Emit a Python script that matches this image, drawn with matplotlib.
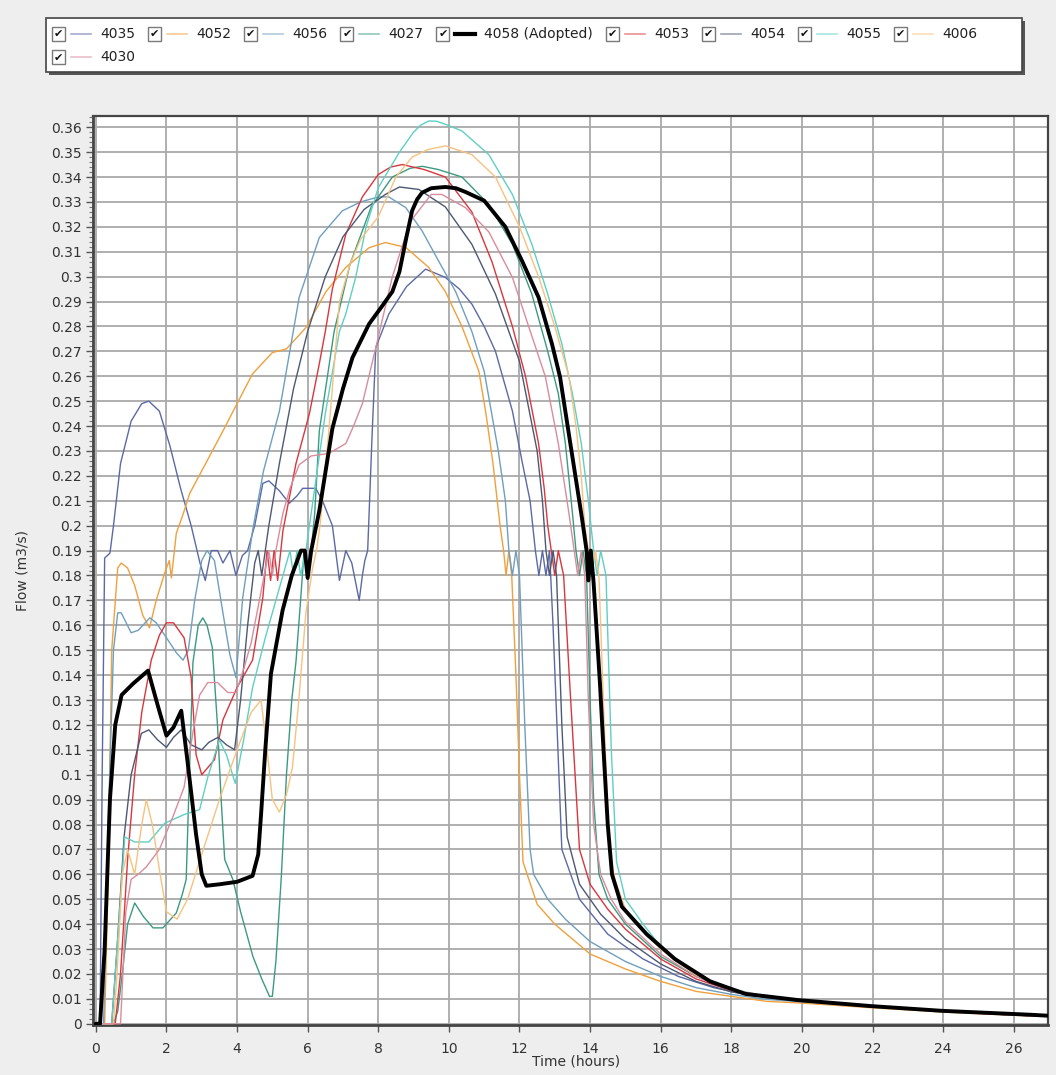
import matplotlib
matplotlib.use("Agg")
import matplotlib.pyplot as plt
from matplotlib.patches import Rectangle
from matplotlib.lines import Line2D
from matplotlib.ticker import MultipleLocator, FuncFormatter

plt.rcParams['font.family'] = ['DejaVu Sans']

# ---------------- data (time h, flow m3/s) ----------------
pts_4035 = [(0, 0), (0.12, 0), (0.18, 0.10), (0.25, 0.187), (0.4, 0.189), (0.5, 0.2), (0.7, 0.225),
            (1.0, 0.242), (1.3, 0.249), (1.5, 0.25), (1.8, 0.246), (2.1, 0.232), (2.4, 0.215), (2.7, 0.2),
            (2.95, 0.185), (3.1, 0.178), (3.27, 0.19), (3.45, 0.19), (3.6, 0.185), (3.8, 0.19), (3.97, 0.18),
            (4.15, 0.188), (4.3, 0.19), (4.5, 0.2), (4.73, 0.217), (4.9, 0.218), (5.2, 0.214), (5.48, 0.209),
            (5.7, 0.212), (5.86, 0.215), (6.23, 0.215), (6.42, 0.21), (6.7, 0.2), (6.9, 0.178), (7.08, 0.19),
            (7.25, 0.185), (7.46, 0.17), (7.55, 0.18), (7.62, 0.186), (7.7, 0.19), (7.83, 0.238), (7.93, 0.2715),
            (8.3, 0.285), (8.8, 0.296), (9.34, 0.303), (9.9, 0.2997), (10.3, 0.295), (10.65, 0.289), (11.0, 0.28),
            (11.32, 0.27), (11.8, 0.246), (12.07, 0.226), (12.3, 0.21), (12.45, 0.19), (12.55, 0.18), (12.65, 0.19),
            (12.75, 0.18), (12.85, 0.19), (12.95, 0.16), (13.2, 0.07), (13.7, 0.05), (14.5, 0.036), (15.5, 0.026),
            (16.5, 0.019), (17.5, 0.0145), (18.5, 0.0115), (20, 0.009), (22, 0.0068), (24, 0.005), (26, 0.0035),
            (27, 0.003)]

pts_4052 = [(0, 0), (0.25, 0), (0.35, 0.06), (0.45, 0.15), (0.62, 0.183), (0.72, 0.185), (0.9, 0.183),
            (1.1, 0.176), (1.33, 0.164), (1.52, 0.159), (1.71, 0.17), (1.95, 0.181), (2.08, 0.186), (2.14, 0.179),
            (2.28, 0.197), (2.47, 0.2045), (2.66, 0.213), (3.0, 0.222), (3.6, 0.238), (4.0, 0.249), (4.44, 0.261),
            (5.0, 0.2695), (5.4, 0.271), (5.95, 0.2795), (6.52, 0.294), (7.08, 0.3037), (7.74, 0.3116), (8.2, 0.3137),
            (8.78, 0.3117), (9.43, 0.3037), (9.9, 0.294), (10.37, 0.28), (10.85, 0.262), (11.05, 0.245),
            (11.25, 0.225), (11.45, 0.2), (11.55, 0.19), (11.62, 0.18), (11.7, 0.19), (11.78, 0.18), (11.9, 0.14),
            (12.0, 0.1), (12.1, 0.065), (12.5, 0.048), (13.0, 0.04), (14.0, 0.028), (15.0, 0.022), (16.0, 0.017),
            (17.0, 0.013), (18.0, 0.011), (19.0, 0.009), (20, 0.0083), (22, 0.0064), (24, 0.0047), (26, 0.0034),
            (27, 0.0029)]

pts_4056 = [(0, 0), (0.22, 0), (0.35, 0.08), (0.5, 0.15), (0.62, 0.165), (0.72, 0.165), (1.0, 0.157),
            (1.2, 0.158), (1.53, 0.163), (1.71, 0.161), (2.0, 0.155), (2.28, 0.149), (2.47, 0.146), (2.62, 0.15),
            (2.8, 0.17), (3.0, 0.186), (3.15, 0.19), (3.36, 0.186), (3.6, 0.165), (3.8, 0.148), (3.97, 0.139),
            (4.16, 0.171), (4.44, 0.198), (4.75, 0.222), (5.2, 0.246), (5.76, 0.2917), (6.33, 0.3157),
            (6.98, 0.3264), (7.5, 0.33), (8.0, 0.332), (8.3, 0.332), (8.78, 0.3277), (9.24, 0.3184), (9.72, 0.306),
            (10.19, 0.294), (10.65, 0.278), (11.0, 0.262), (11.4, 0.23), (11.6, 0.21), (11.7, 0.19), (11.8, 0.18),
            (11.9, 0.19), (12.0, 0.18), (12.15, 0.12), (12.3, 0.07), (12.4, 0.06), (12.8, 0.05), (13.3, 0.042),
            (14, 0.033), (15, 0.025), (16, 0.019), (17, 0.0145), (18, 0.0118), (19, 0.0098), (20, 0.0088),
            (22, 0.0067), (24, 0.005), (26, 0.0035), (27, 0.003)]

pts_4027 = [(0, 0), (0.5, 0), (0.62, 0.005), (0.75, 0.02), (0.9, 0.04), (1.1, 0.0485), (1.35, 0.043),
            (1.62, 0.0385), (1.9, 0.0385), (2.28, 0.0445), (2.45, 0.052), (2.56, 0.058), (2.65, 0.1), (2.75, 0.145),
            (2.9, 0.16), (3.03, 0.163), (3.15, 0.16), (3.3, 0.151), (3.45, 0.119), (3.55, 0.09), (3.65, 0.066),
            (3.88, 0.058), (4.1, 0.045), (4.45, 0.027), (4.7, 0.018), (4.92, 0.011), (5.0, 0.011), (5.1, 0.025),
            (5.25, 0.058), (5.4, 0.1), (5.55, 0.13), (5.67, 0.1455), (5.8, 0.17), (5.9, 0.19), (6.0, 0.18),
            (6.1, 0.19), (6.2, 0.205), (6.33, 0.238), (6.75, 0.278), (7.2, 0.305), (7.8, 0.328), (8.4, 0.34),
            (8.9, 0.3435), (9.25, 0.3443), (9.7, 0.343), (10.37, 0.34), (11.13, 0.329), (11.8, 0.313),
            (12.35, 0.293), (12.8, 0.27), (13.1, 0.253), (13.3, 0.233), (13.5, 0.205), (13.6, 0.19), (13.7, 0.18),
            (13.8, 0.19), (13.9, 0.18), (14.0, 0.13), (14.1, 0.09), (14.25, 0.06), (14.5, 0.05), (15.0, 0.04),
            (16, 0.027), (17, 0.019), (18, 0.0135), (19, 0.011), (20, 0.0093), (22, 0.007), (24, 0.0052),
            (26, 0.0037), (27, 0.0031)]

pts_4058 = [(0, 0), (0.12, 0), (0.25, 0.03), (0.4, 0.09), (0.55, 0.12), (0.73, 0.132), (1.05, 0.1365),
            (1.48, 0.1418), (1.75, 0.128), (2.0, 0.1157), (2.2, 0.119), (2.42, 0.1257), (2.6, 0.105), (2.84, 0.076),
            (3.0, 0.06), (3.13, 0.0554), (3.5, 0.056), (4.0, 0.057), (4.44, 0.0594), (4.6, 0.068), (4.68, 0.084),
            (4.8, 0.11), (4.96, 0.1405), (5.29, 0.166), (5.55, 0.18), (5.81, 0.19), (5.92, 0.19), (6.0, 0.179),
            (6.1, 0.19), (6.33, 0.206), (6.7, 0.239), (7.0, 0.255), (7.27, 0.2675), (7.74, 0.281), (8.1, 0.288),
            (8.4, 0.294), (8.6, 0.302), (8.8, 0.316), (8.96, 0.3265), (9.1, 0.331), (9.24, 0.3337), (9.5, 0.3355),
            (9.9, 0.336), (10.2, 0.3355), (10.47, 0.334), (11.0, 0.3305), (11.6, 0.32), (12.07, 0.3064),
            (12.54, 0.2917), (12.92, 0.273), (13.15, 0.2596), (13.44, 0.233), (13.77, 0.203), (13.9, 0.19),
            (13.95, 0.178), (14.02, 0.19), (14.1, 0.177), (14.28, 0.1365), (14.38, 0.11), (14.5, 0.08),
            (14.62, 0.06), (14.9, 0.047), (15.6, 0.036), (16.4, 0.026), (17.4, 0.017), (18.4, 0.012),
            (19.9, 0.0095), (21.95, 0.0071), (23.96, 0.0052), (26.5, 0.0036), (27, 0.0032)]

pts_4053 = [(0, 0), (0.55, 0), (0.7, 0.02), (0.9, 0.066), (1.1, 0.1), (1.3, 0.125), (1.57, 0.146),
            (1.8, 0.156), (2.0, 0.161), (2.2, 0.161), (2.5, 0.155), (2.7, 0.139), (2.84, 0.108), (3.0, 0.1),
            (3.36, 0.106), (3.6, 0.122), (4.0, 0.135), (4.44, 0.146), (4.73, 0.171), (4.85, 0.19), (4.95, 0.178),
            (5.05, 0.19), (5.15, 0.178), (5.3, 0.198), (5.67, 0.225), (6.05, 0.245), (6.33, 0.265), (6.5, 0.278),
            (6.7, 0.295), (7.08, 0.317), (7.55, 0.332), (8.0, 0.341), (8.35, 0.344), (8.68, 0.345), (9.3, 0.343),
            (9.9, 0.34), (10.65, 0.326), (11.22, 0.306), (11.8, 0.28), (12.17, 0.26), (12.54, 0.233),
            (12.7, 0.215), (12.8, 0.2), (12.9, 0.19), (13.0, 0.18), (13.1, 0.19), (13.25, 0.18), (13.45, 0.13),
            (13.7, 0.07), (14.0, 0.056), (14.5, 0.046), (15, 0.038), (16, 0.026), (17, 0.018), (18, 0.0133),
            (19, 0.0108), (20, 0.009), (22, 0.0068), (24, 0.005), (26, 0.0035), (27, 0.003)]

pts_4054 = [(0, 0), (0.45, 0), (0.6, 0.03), (0.8, 0.075), (1.0, 0.1), (1.29, 0.1166), (1.5, 0.118),
            (1.75, 0.114), (2.0, 0.111), (2.2, 0.115), (2.42, 0.118), (2.7, 0.112), (3.0, 0.11), (3.2, 0.113),
            (3.46, 0.115), (3.7, 0.112), (3.93, 0.11), (4.1, 0.13), (4.3, 0.16), (4.5, 0.185), (4.6, 0.19),
            (4.7, 0.18), (4.8, 0.19), (4.9, 0.2), (5.2, 0.225), (5.6, 0.255), (6.0, 0.278), (6.5, 0.3),
            (7.0, 0.316), (7.6, 0.327), (8.2, 0.333), (8.6, 0.336), (9.15, 0.335), (9.9, 0.328), (10.65, 0.313),
            (11.32, 0.293), (12.0, 0.266), (12.5, 0.23), (12.65, 0.21), (12.75, 0.19), (12.85, 0.18),
            (12.95, 0.19), (13.05, 0.18), (13.2, 0.12), (13.35, 0.075), (13.7, 0.056), (14.3, 0.044), (15, 0.034),
            (16, 0.024), (17, 0.017), (18, 0.0128), (19, 0.0105), (20, 0.009), (22, 0.0068), (24, 0.005),
            (26, 0.0035), (27, 0.003)]

pts_4055 = [(0, 0), (0.45, 0), (0.6, 0.03), (0.82, 0.075), (1.1, 0.073), (1.5, 0.073), (1.95, 0.0805),
            (2.5, 0.084), (2.94, 0.086), (3.17, 0.099), (3.5, 0.114), (3.7, 0.108), (3.95, 0.0965), (4.2, 0.115),
            (4.44, 0.135), (4.8, 0.155), (5.2, 0.175), (5.5, 0.19), (5.6, 0.18), (5.7, 0.19), (5.8, 0.18),
            (5.95, 0.19), (6.2, 0.215), (6.5, 0.245), (6.9, 0.278), (7.08, 0.285), (7.36, 0.2997), (7.65, 0.3197),
            (8.0, 0.3357), (8.6, 0.35), (9.0, 0.358), (9.2, 0.3608), (9.43, 0.3625), (9.65, 0.3624), (9.9, 0.3612),
            (10.37, 0.3585), (11.13, 0.349), (11.8, 0.333), (12.35, 0.313), (12.8, 0.293), (13.2, 0.273),
            (13.5, 0.253), (13.75, 0.233), (13.95, 0.21), (14.1, 0.19), (14.2, 0.18), (14.3, 0.19), (14.45, 0.18),
            (14.6, 0.11), (14.75, 0.065), (15.0, 0.05), (15.5, 0.04), (16, 0.031), (17, 0.02), (18, 0.014),
            (19, 0.011), (20, 0.0093), (22, 0.007), (24, 0.0052), (26, 0.0037), (27, 0.0031)]

pts_4006 = [(0, 0), (0.5, 0), (0.6, 0.02), (0.75, 0.06), (0.9, 0.07), (1.1, 0.06), (1.3, 0.08), (1.43, 0.09),
            (1.6, 0.08), (1.8, 0.062), (2.0, 0.045), (2.3, 0.042), (2.6, 0.05), (3.0, 0.068), (3.5, 0.09),
            (4.0, 0.11), (4.4, 0.125), (4.68, 0.13), (4.85, 0.11), (5.0, 0.09), (5.2, 0.085), (5.4, 0.092),
            (5.57, 0.103), (5.75, 0.13), (5.95, 0.165), (6.14, 0.183), (6.25, 0.19), (6.35, 0.2), (6.6, 0.238),
            (6.9, 0.29), (7.2, 0.305), (7.5, 0.315), (8.0, 0.324), (8.5, 0.34), (8.96, 0.348), (9.4, 0.351),
            (9.9, 0.3525), (10.65, 0.349), (11.32, 0.34), (12.0, 0.32), (12.54, 0.3), (13.0, 0.28), (13.4, 0.26),
            (13.6, 0.24), (13.75, 0.22), (13.85, 0.2), (13.95, 0.19), (14.05, 0.18), (14.15, 0.19), (14.25, 0.18),
            (14.4, 0.12), (14.55, 0.07), (14.7, 0.058), (15, 0.046), (15.5, 0.037), (16, 0.03), (17, 0.0195),
            (18, 0.0138), (19, 0.011), (20, 0.0092), (22, 0.007), (24, 0.005), (26, 0.0036), (27, 0.003)]

pts_4030 = [(0, 0), (0.7, 0), (0.85, 0.045), (1.0, 0.058), (1.2, 0.06), (1.43, 0.063), (1.8, 0.07),
            (2.18, 0.083), (2.5, 0.095), (2.75, 0.117), (2.94, 0.132), (3.17, 0.137), (3.45, 0.137),
            (3.74, 0.133), (3.97, 0.133), (4.2, 0.143), (4.4, 0.153), (4.7, 0.175), (4.9, 0.19), (5.0, 0.18),
            (5.1, 0.19), (5.3, 0.205), (5.5, 0.215), (5.76, 0.2245), (6.1, 0.228), (6.6, 0.229), (7.08, 0.233),
            (7.3, 0.24), (7.55, 0.249), (7.93, 0.2715), (8.4, 0.3), (8.9, 0.322), (9.5, 0.333), (9.8, 0.333),
            (10.47, 0.3277), (11.13, 0.318), (11.8, 0.2997), (12.26, 0.28), (12.73, 0.26), (13.1, 0.233),
            (13.4, 0.205), (13.55, 0.19), (13.65, 0.18), (13.75, 0.19), (13.85, 0.18), (13.95, 0.13),
            (14.1, 0.08), (14.3, 0.06), (14.6, 0.05), (15, 0.041), (16, 0.028), (17, 0.019), (18, 0.0135),
            (19, 0.011), (20, 0.0092), (22, 0.007), (24, 0.005), (26, 0.0036), (27, 0.003)]

series_names = ["4035", "4052", "4056", "4027", "4058 (Adopted)", "4053", "4054", "4055", "4006", "4030"]
series_points = [pts_4035, pts_4052, pts_4056, pts_4027, pts_4058, pts_4053, pts_4054, pts_4055, pts_4006, pts_4030]
series_colors = ["#5b6aa6", "#f0a03c", "#6f9fbd", "#3c9a82", "#000000", "#d9363e", "#4d5874", "#5fcfc4",
                 "#f7c27f", "#d98c9c"]

x_ticks = list(range(0, 27, 2))

# ---------------- figure ----------------
W, H = 1056, 1075
fig = plt.figure(figsize=(W / 100, H / 100), dpi=100, facecolor="#eeeeee")

L, R, T, B = 93, 1048, 116, 1025
ax = fig.add_axes([L / W, 1 - B / H, (R - L) / W, (B - T) / H])
ax.set_facecolor("white")

for name, pts, col in zip(series_names, series_points, series_colors):
    if "Adopted" in name:
        continue
    xs = [p[0] for p in pts]
    ys = [p[1] for p in pts]
    ax.plot(xs, ys, color=col, lw=1.0, zorder=3, solid_joinstyle="round")
for name, pts, col in zip(series_names, series_points, series_colors):
    if "Adopted" in name:
        xs = [p[0] for p in pts]
        ys = [p[1] for p in pts]
        ax.plot(xs, ys, color=col, lw=2.8, zorder=4, solid_joinstyle="round", solid_capstyle="round")

ax.set_xlim(-0.08, 26.97)
ax.set_ylim(-0.0005, 0.3645)
ax.set_xticks(x_ticks)
ax.yaxis.set_major_locator(MultipleLocator(0.01))
ax.yaxis.set_minor_locator(MultipleLocator(0.002))
ax.yaxis.set_major_formatter(FuncFormatter(lambda v, p: f"{round(v, 2):g}"))
ax.grid(True, which="major", color="#a9a9a9", lw=1.3, zorder=0)
ax.set_axisbelow(True)

ax.tick_params(axis="both", which="major", labelsize=10, colors="#555555", labelcolor="#333333",
               length=5, width=1)
ax.tick_params(axis="x", pad=7)
ax.tick_params(axis="y", pad=3)
ax.tick_params(axis="y", which="minor", length=3, width=0.8, colors="#777777")

for side, sp in ax.spines.items():
    sp.set_color("#444444")
    sp.set_linewidth(2.0 if side in ("left", "bottom") else 1.6)

ax.set_ylabel("Flow (m3/s)", fontsize=10, color="#333333")
ax.set_xlabel("Time (hours)", fontsize=10, color="#333333")
ax.yaxis.set_label_coords(-0.066, 0.5)
ax.xaxis.set_label_coords(0.506, -0.033)

# ---------------- legend box (check-box style) ----------------
def fx(px):
    return px / W

def fy(py):
    return 1 - py / H

box_l, box_t, box_r, box_b = 46, 18, 1022, 72
fig.patches.append(Rectangle((fx(box_l + 3), fy(box_b + 3)), fx(box_r - box_l), (box_b - box_t) / H,
                             transform=fig.transFigure, facecolor="#555555", edgecolor="none", zorder=1))
fig.patches.append(Rectangle((fx(box_l), fy(box_b)), fx(box_r - box_l), (box_b - box_t) / H,
                             transform=fig.transFigure, facecolor="white", edgecolor="#444444", lw=1.2,
                             zorder=2))

renderer = fig.canvas.get_renderer()
row_y = [34, 57]
cur_x, row = 52, 0
for name, col in zip(series_names, series_colors):
    tmp = fig.text(0, 0, name, fontsize=10)
    tw = tmp.get_window_extent(renderer).width
    tmp.remove()
    if cur_x + 48 + tw > box_r - 6:
        row += 1
        cur_x = 52
    cy = row_y[row]
    fig.patches.append(Rectangle((fx(cur_x), fy(cy + 6.5)), 13 / W, 13 / H, transform=fig.transFigure,
                                 facecolor="white", edgecolor="#7a7a7a", lw=1.0, zorder=3))
    fig.text(fx(cur_x + 6.8), fy(cy + 0.5), "\u2714", fontsize=8, ha="center", va="center",
             color="#111111", zorder=4)
    adopted = "Adopted" in name
    fig.lines.append(Line2D([fx(cur_x + 19), fx(cur_x + 39)], [fy(cy), fy(cy)], transform=fig.transFigure,
                            color=col, lw=3.0 if adopted else 1.2,
                            alpha=1.0 if adopted else 0.55, zorder=4))
    fig.text(fx(cur_x + 48), fy(cy), name, fontsize=10, ha="left", va="center", color="#222222", zorder=4)
    cur_x = cur_x + 48 + tw + 13

fig.savefig("out.png", dpi=100, facecolor=fig.get_facecolor())
